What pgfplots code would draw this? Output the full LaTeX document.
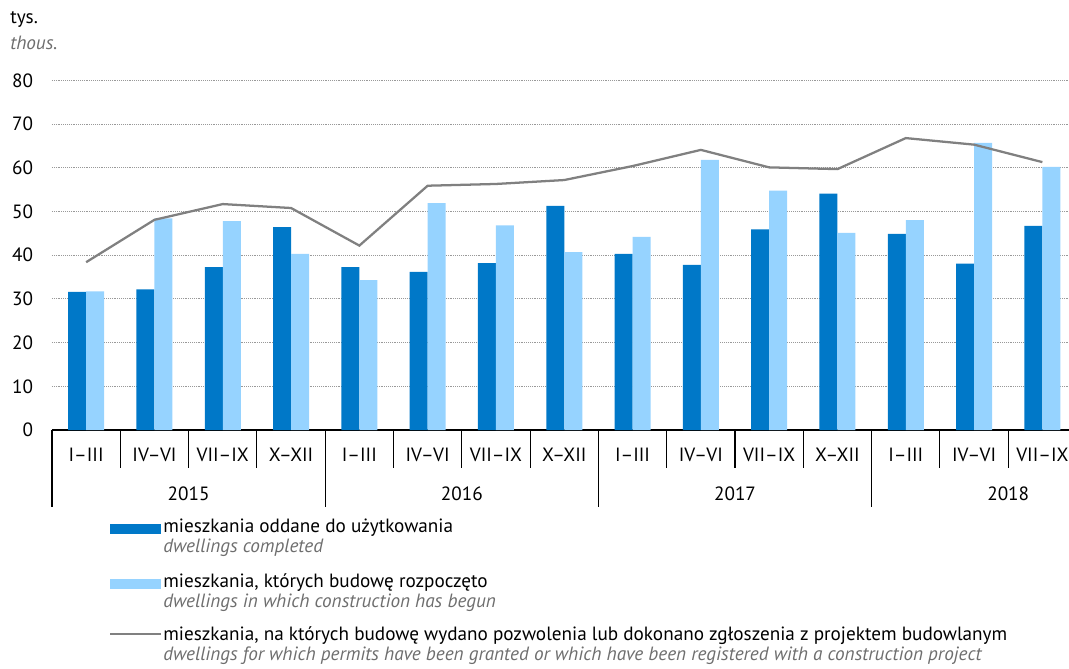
\documentclass[border=0pt]{standalone}
\usepackage{fontspec}
\setmainfont{PT Sans}
\usepackage{pgfplots}
\usepackage{pgfplotstable}
\pgfplotsset{compat=1.18}
\definecolor{dblue}{RGB}{0,120,200}
\definecolor{lblue}{RGB}{150,211,255}
\definecolor{lgray}{RGB}{128,128,128}
\definecolor{tgray}{RGB}{110,110,110}
\pgfplotstableread{
x dark light permits
0 31.6 31.7 38.4
1 32.2 48.4 48.1
2 37.3 47.8 51.7
3 46.4 40.3 50.8
4 37.3 34.3 42.2
5 36.2 51.9 55.9
6 38.2 46.8 56.3
7 51.3 40.7 57.2
8 40.3 44.2 60.4
9 37.8 61.8 64.1
10 45.9 54.8 60.1
11 54.1 45.1 59.7
12 44.9 48.0 66.8
13 38.1 65.7 65.3
14 46.7 60.2 61.3
}\datatable
\begin{document}
\begin{tikzpicture}[x=0.75pt,y=0.75pt,font=\fontsize{14.4}{17}\selectfont]
\useasboundingbox (0,0) rectangle (1069,668);
\begin{axis}[
  at={(39pt,178.5pt)}, anchor=south west,
  scale only axis, width=762.75pt, height=262.2pt,
  xmin=-0.5, xmax=14.39, ymin=0, ymax=80,
  axis x line*=bottom, axis y line*=left,
  y axis line style={draw=none},
  x axis line style={line width=1pt, black},
  ytick={0,10,...,80}, ytick style={draw=none},
  ymajorgrids, grid style={densely dotted, gray!80, line width=0.7pt},
  yticklabel style={anchor=east, inner sep=0pt, xshift=-14pt, font=\fontsize{14.4}{17}\selectfont},
  /pgf/number format/assume math mode=true,
  xtick={0,...,14}, xtick style={draw=none},
  xticklabels={I--III,IV--VI,VII--IX,X--XII,I--III,IV--VI,VII--IX,X--XII,I--III,IV--VI,VII--IX,X--XII,I--III,IV--VI,VII--IX},
  xticklabel style={anchor=center, inner sep=0pt, yshift=-18.75pt, font=\fontsize{14.4}{17}\selectfont},
  clip=false,
]
\addplot[ybar, bar width=13.5pt, bar shift=-6.75pt, fill=dblue, draw=none] table[x=x,y=dark]{\datatable};
\addplot[ybar, bar width=13.5pt, bar shift=6.75pt, fill=lblue, draw=none] table[x=x,y=light]{\datatable};
\addplot[lgray, line width=1.7pt, mark=none] table[x=x,y=permits]{\datatable};
\pgfplotsinvokeforeach{0.5,1.5,2.5,4.5,5.5,6.5,8.5,9.5,10.5,12.5,13.5}{
  \draw[line width=0.8pt] (axis cs:#1,0) -- ++(0pt,-28.5pt);
}
\pgfplotsinvokeforeach{-0.5,3.5,7.5,11.5}{
  \draw[line width=0.8pt] (axis cs:#1,0) -- ++(0pt,-57.75pt);
}
\node at ([yshift=-48pt]axis cs:1.5,0) {2015};
\node at ([yshift=-48pt]axis cs:5.5,0) {2016};
\node at ([yshift=-48pt]axis cs:9.5,0) {2017};
\node at ([yshift=-48pt]axis cs:13.5,0) {2018};
\end{axis}
% units
\node[anchor=base west, inner sep=0pt] at (10,644) {tys.};
\node[anchor=base west, inner sep=0pt, text=tgray] at (10,618) {\itshape thous.};
% legend
\fill[dblue] (110,134) rectangle (161,144);
\node[anchor=base west, inner sep=0pt] at (163,136) {mieszkania oddane do użytkowania};
\node[anchor=base west, inner sep=0pt, text=tgray] at (163,116) {\itshape dwellings completed};
\fill[lblue] (110,79) rectangle (161,89);
\node[anchor=base west, inner sep=0pt] at (163,81) {mieszkania, których budowę rozpoczęto};
\node[anchor=base west, inner sep=0pt, text=tgray] at (163,61) {\itshape dwellings in which construction has begun};
\draw[lgray, line width=1.7pt] (110,34) -- (161,34);
\node[anchor=base west, inner sep=0pt] at (163,28) {mieszkania, na których budowę wydano pozwolenia lub dokonano zgłoszenia z projektem budowlanym};
\node[anchor=base west, inner sep=0pt, text=tgray] at (163,8) {\itshape dwellings for which permits have been granted or which have been registered with a construction project};
\end{tikzpicture}
\end{document}
